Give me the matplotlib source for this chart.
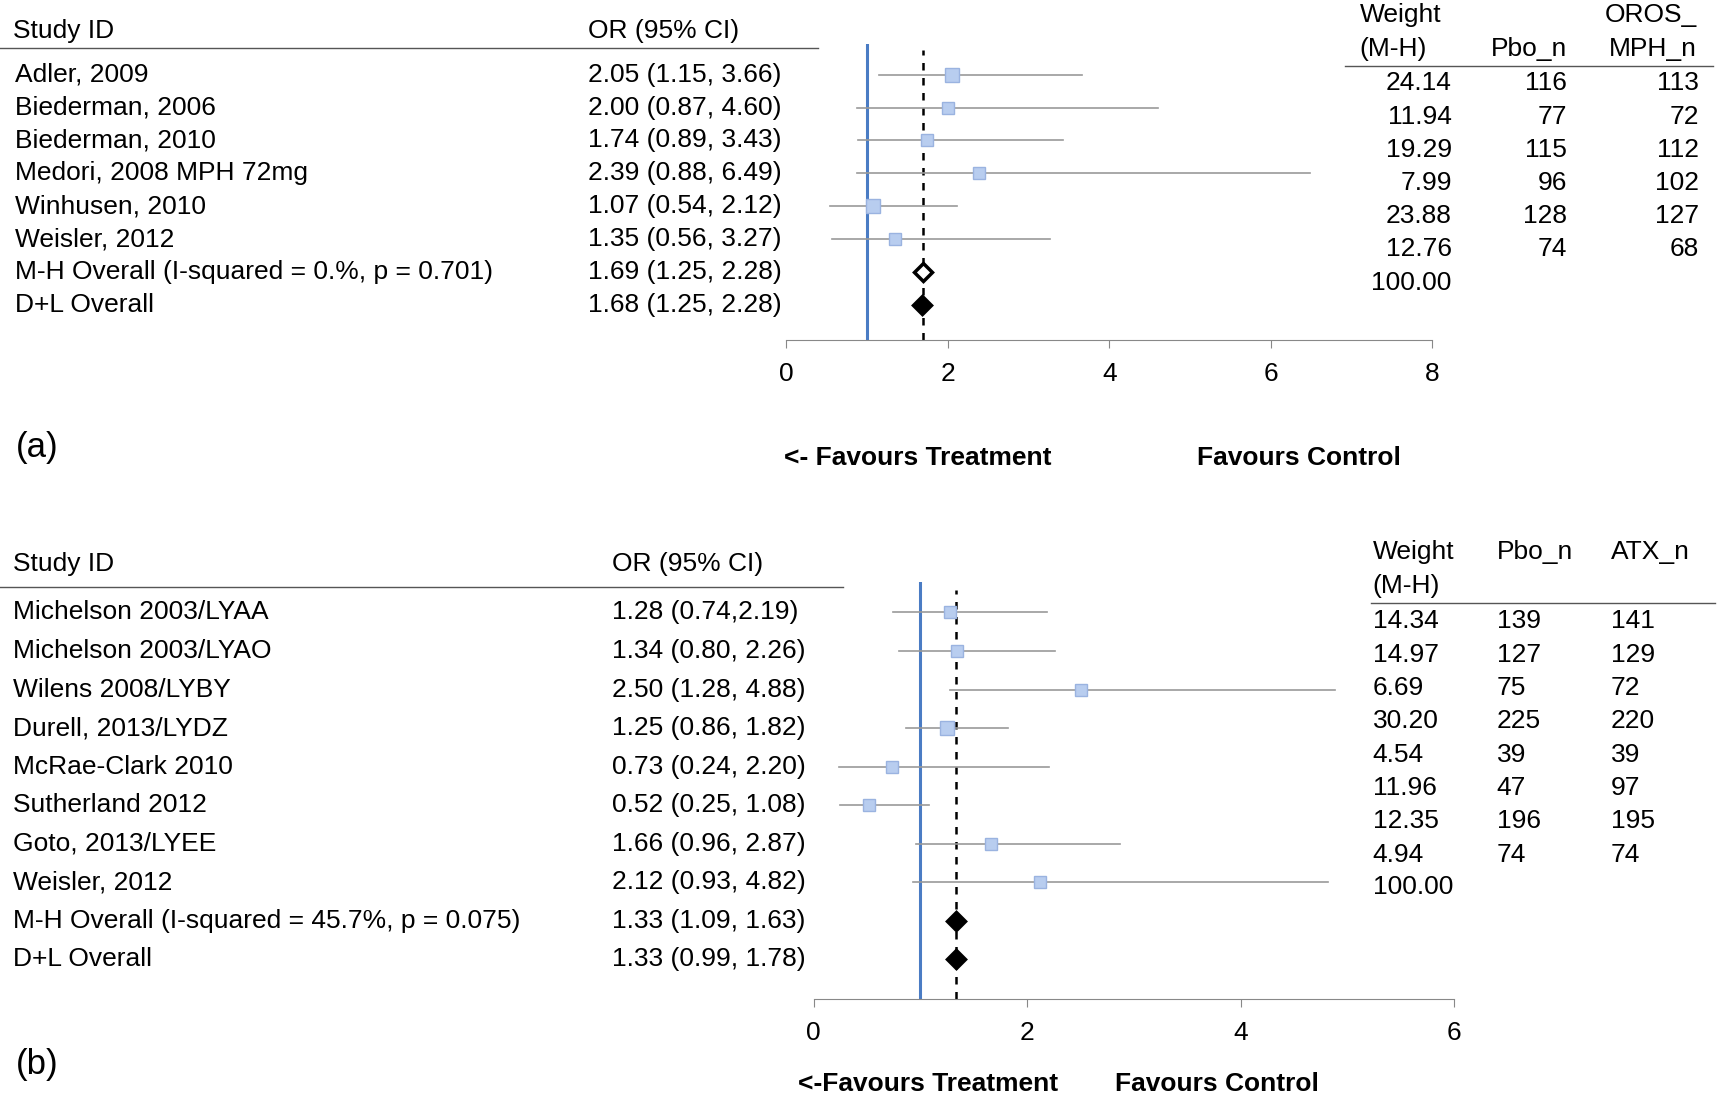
import matplotlib
matplotlib.use("Agg")
import matplotlib.pyplot as plt
from matplotlib.transforms import blended_transform_factory as blend

plt.rcParams['font.family'] = ['Liberation Sans', 'DejaVu Sans']
FS = 19
W, H = 1568.0, 1004.0  # reference pixel frame

# ---- panel (a) data
a_studies = ["Adler, 2009", "Biederman, 2006", "Biederman, 2010", "Medori, 2008 MPH 72mg",
             "Winhusen, 2010", "Weisler, 2012"]
a_or = [2.05, 2.00, 1.74, 2.39, 1.07, 1.35]
a_lo = [1.15, 0.87, 0.89, 0.88, 0.54, 0.56]
a_hi = [3.66, 4.60, 3.43, 6.49, 2.12, 3.27]
a_w = [24.14, 11.94, 19.29, 7.99, 23.88, 12.76]
a_pbo = [116, 77, 115, 96, 128, 74]
a_trt = [113, 72, 112, 102, 127, 68]
a_overall = [("M-H Overall (I-squared = 0.%, p = 0.701)", 1.69, 1.25, 2.28),
             ("D+L Overall", 1.68, 1.25, 2.28)]
a_ticks = [0, 2, 4, 6, 8]

# ---- panel (b) data
b_studies = ["Michelson 2003/LYAA", "Michelson 2003/LYAO", "Wilens 2008/LYBY", "Durell, 2013/LYDZ",
             "McRae-Clark 2010", "Sutherland 2012", "Goto, 2013/LYEE", "Weisler, 2012"]
b_or = [1.28, 1.34, 2.50, 1.25, 0.73, 0.52, 1.66, 2.12]
b_lo = [0.74, 0.80, 1.28, 0.86, 0.24, 0.25, 0.96, 0.93]
b_hi = [2.19, 2.26, 4.88, 1.82, 2.20, 1.08, 2.87, 4.82]
b_ci_txt = ["1.28 (0.74,2.19)", "1.34 (0.80, 2.26)", "2.50 (1.28, 4.88)", "1.25 (0.86, 1.82)",
            "0.73 (0.24, 2.20)", "0.52 (0.25, 1.08)", "1.66 (0.96, 2.87)", "2.12 (0.93, 4.82)"]
b_w = [14.34, 14.97, 6.69, 30.20, 4.54, 11.96, 12.35, 4.94]
b_pbo = [139, 127, 75, 225, 39, 47, 196, 74]
b_trt = [141, 129, 72, 220, 39, 97, 195, 74]
b_overall = [("M-H Overall (I-squared = 45.7%, p = 0.075)", 1.33, 1.09, 1.63),
             ("D+L Overall", 1.33, 0.99, 1.78)]
b_ticks = [0, 2, 4, 6]

fig = plt.figure(figsize=(17.22, 11.02), dpi=100)


def fx(px):
    return px / W


def fy(py):
    return 1 - py / H


def add_line(x0, x1, py):
    fig.add_artist(plt.Line2D([fx(x0), fx(x1)], [fy(py), fy(py)], color='#555555', lw=1))


def panel(x0, x1, top, bottom, row0, step, xmax, ticks, studies, ors, los, his, ws,
          overall, ref, fills):
    ax = fig.add_axes([fx(x0), fy(bottom), fx(x1) - fx(x0), fy(top) - fy(bottom)])
    ax.set_xlim(0, xmax)
    ax.set_ylim((bottom - row0) / step, (top - row0) / step)
    for s in ['top', 'right', 'left']:
        ax.spines[s].set_visible(False)
    ax.spines['bottom'].set_color('#888888')
    ax.set_yticks([])
    ax.set_xticks(ticks)
    ax.tick_params(axis='x', labelsize=FS, length=6, color='#888888', pad=10)
    ax.axvline(1, color='#4a7cc4', lw=2.2)
    ax.axvline(ref, color='black', lw=1.8, ls=(0, (3, 3)), ymax=0.98)
    n = len(studies)
    for i in range(n):
        ax.plot([los[i], his[i]], [i, i], color='#999999', lw=1.2, zorder=2)
        ax.plot(ors[i], i, 's', ms=8 + ws[i] * 0.06, mfc='#b8cdef', mec='#9ab3e0', zorder=3)
    for j, (lab, o, lo, hi) in enumerate(overall):
        ax.plot(o, n + j, 'D', ms=9, mfc=fills[j], mec='black', mew=2.5, zorder=4)
    return ax, blend(fig.transFigure, ax.transData)


def cell(px, py, s, ha='left'):
    fig.text(fx(px), fy(py), s, fontsize=FS, va='center', ha=ha)


# ---------------- panel (a)
ax, tr = panel(716, 1304, 40, 310, 68, 30.0, 8, a_ticks, a_studies, a_or, a_lo, a_hi,
               a_w, a_overall, 1.69, ['white', 'black'])
cell(12, 28, "Study ID")
cell(535, 28, "OR (95% CI)")
add_line(0, 745, 44)
cell(1238, 14, "Weight")
cell(1238, 45, "(M-H)")
cell(1427, 45, "Pbo_n", 'right')
cell(1545, 14, "OROS_", 'right')
cell(1545, 45, "MPH_n", 'right')
add_line(1225, 1560, 60)
for i, s in enumerate(a_studies):
    ax.text(fx(14), i, s, transform=tr, fontsize=FS, va='center')
    ax.text(fx(535), i, f"{a_or[i]:.2f} ({a_lo[i]:.2f}, {a_hi[i]:.2f})", transform=tr,
            fontsize=FS, va='center')
    py = 76 + 30.2 * i
    cell(1322, py, f"{a_w[i]:.2f}", 'right')
    cell(1427, py, str(a_pbo[i]), 'right')
    cell(1547, py, str(a_trt[i]), 'right')
for j, (lab, o, lo, hi) in enumerate(a_overall):
    y = len(a_studies) + j
    ax.text(fx(14), y, lab, transform=tr, fontsize=FS, va='center')
    ax.text(fx(535), y, f"{o:.2f} ({lo:.2f}, {hi:.2f})", transform=tr, fontsize=FS, va='center')
cell(1322, 258, "100.00", 'right')
fig.text(fx(14), fy(408), "(a)", fontsize=FS + 6, va='center')
fig.text(fx(836), fy(417), "<- Favours Treatment", fontsize=FS, va='center', ha='center',
         weight='bold')
fig.text(fx(1183), fy(417), "Favours Control", fontsize=FS, va='center', ha='center',
         weight='bold')

# ---------------- panel (b)
ax, tr = panel(741, 1324, 530, 910, 558, 35.1, 6, b_ticks, b_studies, b_or, b_lo, b_hi,
               b_w, b_overall, 1.33, ['black', 'black'])
cell(12, 514, "Study ID")
cell(557, 514, "OR (95% CI)")
add_line(0, 768, 535)
cell(1250, 503, "Weight")
cell(1250, 534, "(M-H)")
cell(1363, 503, "Pbo_n")
cell(1467, 503, "ATX_n")
add_line(1248, 1562, 549)
for i, s in enumerate(b_studies):
    ax.text(fx(12), i, s, transform=tr, fontsize=FS, va='center')
    ax.text(fx(557), i, b_ci_txt[i], transform=tr, fontsize=FS, va='center')
    py = 566 + 30.4 * i
    cell(1250, py, f"{b_w[i]:.2f}")
    cell(1363, py, str(b_pbo[i]))
    cell(1467, py, str(b_trt[i]))
for j, (lab, o, lo, hi) in enumerate(b_overall):
    y = len(b_studies) + j
    ax.text(fx(12), y, lab, transform=tr, fontsize=FS, va='center')
    ax.text(fx(557), y, f"{o:.2f} ({lo:.2f}, {hi:.2f})", transform=tr, fontsize=FS, va='center')
cell(1250, 808, "100.00")
fig.text(fx(14), fy(970), "(b)", fontsize=FS + 6, va='center')
fig.text(fx(845), fy(988), "<-Favours Treatment", fontsize=FS, va='center', ha='center',
         weight='bold')
fig.text(fx(1108), fy(988), "Favours Control", fontsize=FS, va='center', ha='center',
         weight='bold')

fig.savefig("out.png", dpi=100)
